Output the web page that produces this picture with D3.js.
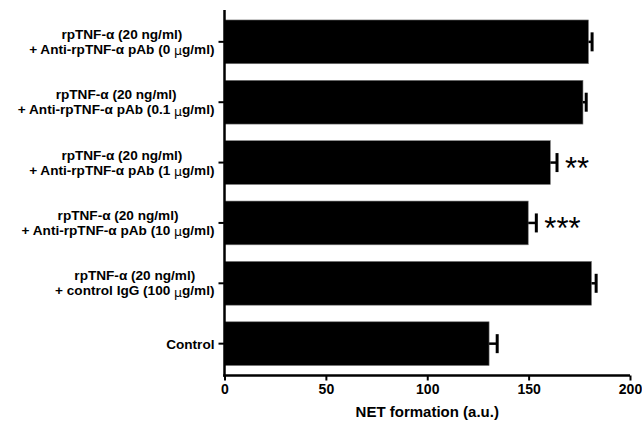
<!DOCTYPE html>
<html>
<head>
<meta charset="utf-8">
<script src="https://cdn.jsdelivr.net/npm/d3@7"></script>
<style>
  body { margin: 0; background: #fff; }
  svg { font-family: Arial, "Liberation Sans", sans-serif; font-weight: bold; }
</style>
</head>
<body>
<svg id="chart" width="642" height="422"></svg>
<script>
// rows, top to bottom
var line1 = ["rpTNF-α (20 ng/ml)", "rpTNF-α (20 ng/ml)", "rpTNF-α (20 ng/ml)",
             "rpTNF-α (20 ng/ml)", "rpTNF-α (20 ng/ml)", ""];
var line2 = ["+ Anti-rpTNF-α pAb (0 |g/ml)", "+ Anti-rpTNF-α pAb (0.1 |g/ml)",
             "+ Anti-rpTNF-α pAb (1 |g/ml)", "+ Anti-rpTNF-α pAb (10 |g/ml)",
             "+ control IgG (100 |g/ml)", "Control"];
var values = [179.5, 176.8, 160.7, 149.8, 181.0, 130.5];
var errors = [1.8, 1.6, 3.3, 4.0, 2.3, 4.0];
var stars = ["", "", "**", "***", "", ""];
var xTicks = [0, 50, 100, 150, 200];

var margin = {top: 10, left: 224.5, right: 12, bottom: 46.5};
var width = 642 - margin.left - margin.right;
var height = 422 - margin.top - margin.bottom;

var svg = d3.select("#chart");
var g = svg.append("g")
  .attr("transform", "translate(" + margin.left + "," + margin.top + ")");

var x = d3.scaleLinear().domain([0, 200]).range([0, 405.5]);
var y = d3.scaleBand().domain(d3.range(values.length)).range([0, height])
  .paddingInner(0.275).paddingOuter(0.165);

// bars
g.selectAll(".bar").data(values).enter().append("rect")
  .attr("x", 0)
  .attr("y", function (d, i) { return y(i); })
  .attr("width", function (d) { return x(d); })
  .attr("height", y.bandwidth())
  .attr("fill", "#000")
  .attr("stroke", "#777")
  .attr("stroke-width", 0.6);

// error bars (one-sided)
g.selectAll(".err").data(values).enter().append("line")
  .attr("x1", function (d) { return x(d); })
  .attr("x2", function (d, i) { return x(d + errors[i]); })
  .attr("y1", function (d, i) { return y(i) + y.bandwidth() / 2; })
  .attr("y2", function (d, i) { return y(i) + y.bandwidth() / 2; })
  .attr("stroke", "#000").attr("stroke-width", 2.5);
g.selectAll(".cap").data(values).enter().append("line")
  .attr("x1", function (d, i) { return x(d + errors[i]); })
  .attr("x2", function (d, i) { return x(d + errors[i]); })
  .attr("y1", function (d, i) { return y(i) + y.bandwidth() / 2 - 9.5; })
  .attr("y2", function (d, i) { return y(i) + y.bandwidth() / 2 + 9.5; })
  .attr("stroke", "#000").attr("stroke-width", 3);

// significance stars
g.selectAll(".star").data(values).enter().append("text")
  .attr("x", function (d, i) { return x(d + errors[i]) + 8; })
  .attr("y", function (d, i) { return y(i) + y.bandwidth() / 2 + 16; })
  .attr("font-size", 31)
  .attr("font-weight", "normal")
  .text(function (d, i) { return stars[i]; });

// x axis
var xAxis = g.append("g")
  .attr("transform", "translate(0," + height + ")")
  .call(d3.axisBottom(x).tickValues(xTicks).tickSize(5).tickPadding(4).tickSizeOuter(0));
xAxis.select(".domain").attr("stroke-width", 2.5).attr("d", "M-1.25,0H" + x(200));
xAxis.selectAll(".tick line").attr("stroke-width", 2);
xAxis.selectAll(".tick text").attr("font-size", 14).attr("font-weight", "bold")
  .attr("font-family", "Arial, 'Liberation Sans', sans-serif").attr("fill", "#000");

// y axis
var yAxis = g.append("g")
  .call(d3.axisLeft(y).tickSize(6).tickSizeOuter(0).tickFormat(""));
yAxis.select(".domain").attr("stroke-width", 2.5).attr("d", "M0,0V" + (height + 1.25));
yAxis.selectAll(".tick line").attr("stroke-width", 2);

// category labels: two centred lines, block right-aligned
function addLine(t, str) {
  var parts = str.split("|");
  parts.forEach(function (p, k) {
    if (k > 0) t.append("tspan").attr("font-weight", "normal")
      .attr("font-family", "'DejaVu Sans', sans-serif").attr("font-size", 12.5).attr("dy", 1.5).text("μ");
    var s = t.append("tspan").text(p);
    if (k > 0) s.attr("dy", -1.5);
  });
}
var labelRight = -10;
values.forEach(function (d, i) {
  var cy = y(i) + y.bandwidth() / 2;
  var lab = g.append("g");
  var t1 = lab.append("text").attr("font-size", 13.6).attr("text-anchor", "middle");
  var t2 = lab.append("text").attr("font-size", 13.6).attr("text-anchor", "middle");
  addLine(t1, line1[i]);
  addLine(t2, line2[i]);
  var w = Math.max(t1.node().getComputedTextLength(), t2.node().getComputedTextLength());
  var cx = labelRight - w / 2;
  if (line1[i]) {
    t1.attr("x", cx).attr("y", cy - 3);
    t2.attr("x", cx).attr("y", cy + 12);
  } else {
    t2.attr("x", cx).attr("y", cy + 5);
  }
});

// x axis title
g.append("text")
  .attr("x", x(100))
  .attr("y", height + 41)
  .attr("text-anchor", "middle")
  .attr("font-size", 15)
  .text("NET formation (a.u.)");
</script>
</body>
</html>
